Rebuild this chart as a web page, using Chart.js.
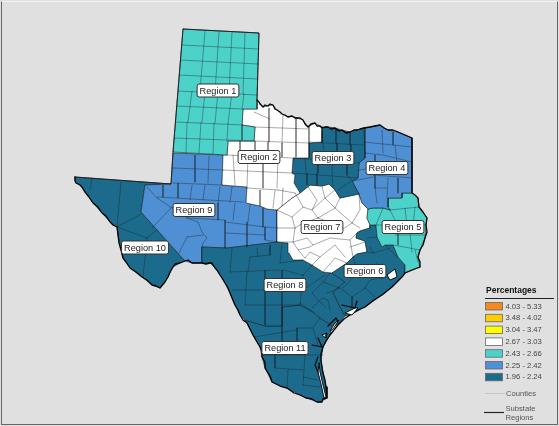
<!DOCTYPE html>
<html>
<head>
<meta charset="utf-8">
<title>Percentages by substate region</title>
<script src="https://cdn.jsdelivr.net/npm/chart.js@4/dist/chart.umd.min.js"></script>
<style>
  html, body { margin: 0; padding: 0; background: #e0e0e0; }
  #wrap { position: relative; width: 559px; height: 426px; overflow: hidden; }
  #frame { position: absolute; left: 1px; top: 1px; right: 1px; bottom: 1px; box-sizing: border-box;
           border: 1px solid #666; border-top-color: #f2f2f2; pointer-events: none; }
</style>
</head>
<body>
<div id="wrap">
  <canvas id="map" width="559" height="426"></canvas>
  <div id="frame"></div>
</div>
<script>
// legend classes
const legendRanges = ['4.03 - 5.33', '3.48 - 4.02', '3.04 - 3.47', '2.67 - 3.03', '2.43 - 2.66', '2.25 - 2.42', '1.96 - 2.24'];
const legendColors = ['#f5891f', '#ffcc00', '#ffff00', '#ffffff', '#4dd2ca', '#4f8fd3', '#1d6b8c'];

// which legend class each region falls in, Region 1 .. Region 11
const regionNames = ['Region 1', 'Region 2', 'Region 3', 'Region 4', 'Region 5', 'Region 6', 'Region 7', 'Region 8', 'Region 9', 'Region 10', 'Region 11'];
const regionClass = [4, 3, 6, 5, 4, 6, 3, 6, 5, 6, 6];
const labelAnchors = [[218, 90.5], [259, 157], [333, 158], [387, 168], [403, 227], [365, 271], [322, 227], [285, 285], [194, 210], [145, 247.5], [285, 348]];

// region shapes (map units)
const region1 = [[183,29],[259,33],[257,100],[257,109],[243,109],[242,125],[255,127],[254,141],[228,141],[227,155],[173,152],[183,29]];
const region2 = [[257,109],[257,100],[260,103],[263,107],[268,106],[273,105],[277,110],[282,114],[288,117],[292,116],[297,118],[303,120],[308,127],[315,123],[320,126],[322,127],[322,142],[309,143],[309,158],[293,158],[292,173],[295,175],[294,183],[300,193],[292,198],[282,206],[277,210],[267,209],[260,206],[246,203],[247,187],[222,185],[223,155],[227,155],[228,141],[254,141],[255,127],[242,125],[243,109],[257,109]];
const region3 = [[322,127],[328,127],[335,128],[342,130],[350,132],[357,130],[360,129],[364,128],[365,158],[359,163],[358,178],[352,181],[359,194],[340,198],[335,190],[329,184],[322,186],[310,185],[300,193],[294,183],[295,175],[292,173],[293,158],[309,158],[309,143],[322,142],[322,127]];
const region4 = [[364,128],[370,127],[380,125],[388,130],[398,132],[412,138],[412,193],[402,193],[402,198],[388,198],[388,207],[390,210],[383,208],[373,208],[368,209],[362,203],[359,194],[352,181],[358,178],[359,163],[365,158],[364,128]];
const region5 = [[368,209],[373,208],[383,208],[390,210],[388,207],[388,198],[402,198],[402,193],[413,193],[418,198],[419,207],[427,218],[426,225],[425,238],[420,250],[418,257],[420,267],[405,273],[405,265],[398,257],[393,245],[385,245],[382,247],[377,237],[376,225],[370,225],[367,218],[368,209]];
const region6 = [[370,228],[370,225],[376,225],[377,237],[382,247],[385,245],[393,245],[398,257],[405,265],[405,273],[402,277],[392,287],[382,295],[365,307],[350,315],[345,316],[340,307],[333,292],[345,282],[332,273],[347,263],[353,257],[357,254],[367,252],[365,241],[356,238],[357,233],[360,231],[370,228]];
const region7 = [[277,210],[282,206],[292,198],[300,193],[310,185],[322,186],[329,184],[335,190],[340,198],[359,194],[362,203],[368,209],[367,218],[370,225],[370,228],[360,231],[357,233],[356,238],[365,241],[367,252],[357,254],[353,257],[347,263],[332,273],[323,272],[312,265],[303,260],[293,260],[289,253],[288,243],[277,242],[277,210]];
const region8 = [[202,247],[227,248],[270,243],[277,242],[288,243],[289,253],[293,260],[303,260],[312,265],[323,272],[332,273],[345,282],[333,292],[340,307],[345,316],[338,325],[332,326],[320,318],[313,312],[300,305],[282,307],[282,326],[265,326],[245,320],[240,315],[235,305],[230,293],[225,283],[220,275],[215,268],[210,263],[202,263],[202,247]];
const region9 = [[173,153],[223,155],[222,185],[247,187],[246,203],[260,206],[267,209],[277,210],[277,242],[270,243],[227,248],[202,247],[202,263],[192,263],[185,261],[141,212],[145,185],[171,184],[173,153]];
const region10 = [[75,177],[171,184],[145,185],[141,212],[185,261],[180,263],[173,267],[168,277],[160,288],[152,285],[142,277],[130,268],[123,258],[118,235],[117,227],[110,222],[102,213],[93,203],[85,192],[80,185],[75,181],[75,177]];
const region11 = [[245,320],[265,326],[282,326],[282,307],[300,305],[313,312],[320,318],[332,326],[330,335],[323,347],[321,360],[323,373],[326,387],[327,398],[320,402],[317,402],[300,395],[287,388],[272,382],[265,368],[262,357],[260,347],[253,335],[247,323],[245,320]];
const regionShapes = [region1, region2, region3, region4, region5, region6, region7, region8, region9, region10, region11];

// survey-straight part of the state line, thin
const stateStraight = [[257,100],[259,33],[183,29],[173,152],[171,184],[75,177]];
// river and coast part of the state line, heavier and jagged
const stateRivers = [[257,100],[259,102],[260,104],[263,107],[265,105],[268,106],[270,104],[273,105],[275,109],[277,110],[280,112],[282,114],[285,115],[288,117],[292,116],[295,118],[297,118],[300,118],[303,120],[305,124],[308,127],[311,124],[315,123],[317,126],[320,126],[322,128],[325,127],[328,127],[331,129],[335,128],[339,131],[342,130],[346,133],[350,132],[354,130],[357,130],[360,129],[364,128],[370,127],[375,126],[380,125],[384,128],[388,130],[393,130],[398,132],[405,135],[412,138],[412,193],[415,195],[418,198],[419,207],[423,212],[427,218],[426,225],[427,232],[425,238],[423,245],[420,250],[418,257],[420,262],[420,267],[412,270],[405,273],[402,277],[397,282],[392,287],[387,291],[382,295],[374,300],[365,307],[358,310],[350,315],[344,319],[338,325],[334,330],[330,335],[326,341],[323,347],[321,354],[321,360],[322,367],[323,373],[325,380],[326,387],[327,392],[327,398],[323,399],[322,402],[317,402],[312,399],[306,398],[300,395],[294,393],[287,388],[280,386],[272,382],[270,376],[265,368],[265,362],[262,357],[262,351],[260,347],[257,342],[253,335],[250,329],[247,323],[243,320],[240,315],[238,310],[235,305],[232,298],[230,293],[228,288],[225,283],[222,278],[220,275],[217,270],[215,268],[212,263],[210,263],[206,264],[202,263],[197,263],[192,263],[188,260],[185,261],[180,263],[175,264],[173,267],[170,272],[168,277],[165,282],[160,288],[156,286],[152,285],[147,280],[142,277],[136,272],[130,268],[126,262],[123,258],[121,250],[119,243],[118,235],[117,227],[113,225],[110,222],[106,216],[102,213],[98,207],[93,203],[89,197],[85,192],[82,187],[80,185],[76,183],[75,181],[75,177]];

// bays and lagoons along the coast
const bayShapes = [
  [[387,275],[395,269],[397,277],[390,280],[387,275]],
  [[345,313],[355,308],[358,308],[352,315],[345,313]],
  [[335,323],[339,320],[333,329],[330,331],[335,323]],
  [[322,335],[327,333],[326,338],[322,335]],
  [[319,363],[320,372],[323,385],[326,397],[324,398],[321,384],[318,372],[319,363]]
];
const coastMarks = [
  [[342,305],[355,308],[357,301]],
  [[318,357],[315,365],[318,372]],
  [[312,345],[322,347],[318,338]],
  [[328,326],[336,318],[338,322]]
];

// county lines
const countiesRegion1 = [
  [[182,45],[259,49]], [[180,60],[258,64]], [[179,75],[258,79]], [[178,91],[257,95]], [[177,106],[243,109]], [[175,122],[243,125]], [[174,138],[254,141]],
  [[205,31],[200,91]], [[219,32],[215,92]], [[232,32],[229,93]], [[245,33],[243,94]],
  [[192,91],[188,122]], [[205,92],[202,122]], [[218,92],[215,123]], [[232,93],[228,123]], [[244,94],[242,109]],
  [[187,122],[186,153]], [[201,122],[199,153]], [[214,123],[213,154]], [[228,123],[227,141]], [[242,125],[242,140]]
];
const countiesRegion2 = [
  [[254,112],[270,119]], [[255,127],[308,129]], [[254,141],[309,143]],
  [[269,108],[269,142]], [[283,115],[282,143]], [[296,118],[296,157]], [[309,127],[309,143]],
  [[227,155],[292,158]], [[223,170],[292,173]],
  [[240,141],[240,155]], [[255,141],[255,155]], [[268,142],[268,156]], [[282,143],[282,157]],
  [[233,155],[235,185]], [[248,156],[247,187]], [[263,157],[263,188]], [[278,157],[277,188]],
  [[247,188],[278,190]], [[278,190],[295,193]], [[260,190],[260,206]], [[275,190],[273,208]], [[283,188],[282,206]]
];
const countiesRegion3 = [
  [[309,142],[363,145]], [[293,158],[359,163]], [[292,173],[358,178]],
  [[322,131],[322,143]], [[336,128],[336,143]], [[350,132],[350,145]],
  [[323,143],[325,158]], [[337,143],[337,160]], [[351,145],[351,162]],
  [[305,158],[306,173]], [[318,160],[318,173]], [[333,160],[332,173]], [[347,162],[347,175]],
  [[307,173],[307,185]], [[317,173],[317,185]], [[332,173],[333,187]], [[347,175],[352,181]], [[338,190],[350,182]]
];
const countiesRegion4 = [
  [[364,142],[412,147]], [[382,130],[383,153]], [[393,132],[393,145]], [[365,153],[382,155]], [[395,145],[397,162]], [[383,155],[412,162]],
  [[373,175],[412,178]], [[388,178],[387,198]], [[375,177],[375,188]], [[353,181],[373,177]], [[375,188],[387,188]], [[375,188],[377,203]], [[398,178],[398,193]],
  [[375,155],[375,177]], [[359,170],[373,168]]
];
const countiesRegion5 = [
  [[390,210],[419,207]], [[405,208],[407,225]], [[415,207],[413,225]], [[390,210],[396,222]], [[376,225],[426,225]],
  [[395,235],[425,235]], [[398,225],[398,245]], [[410,233],[412,252]], [[393,245],[420,250]], [[415,250],[418,262]], [[383,208],[376,225]]
];
const countiesRegion6 = [
  [[367,238],[377,237]], [[370,247],[373,253]], [[385,245],[398,258]], [[373,253],[390,248]], [[343,288],[358,273]], [[352,297],[365,288]], [[352,297],[352,308]],
  [[365,288],[375,297]], [[365,288],[370,280],[387,277]], [[353,257],[358,273]], [[367,252],[373,253]], [[376,263],[383,278]]
];
const countiesRegion7 = [
  [[277,210],[292,217],[303,207],[312,210],[325,198],[335,190]], [[295,193],[303,207]], [[308,187],[317,200],[312,210],[318,218]], [[322,187],[325,198]],
  [[325,198],[335,208],[318,218]], [[335,208],[340,198]], [[335,208],[352,223],[337,233]], [[318,218],[332,223]], [[352,223],[360,210],[359,194]], [[352,223],[360,228]],
  [[292,217],[295,228],[293,242],[298,250],[305,258]], [[295,228],[303,223],[318,218]], [[277,228],[295,228]], [[277,242],[293,242]],
  [[293,242],[307,238],[313,245],[330,238],[350,240],[357,233]], [[298,250],[310,247],[313,245]], [[305,258],[310,252],[320,257],[312,265]],
  [[320,257],[335,245],[345,257]], [[323,272],[335,258],[347,263]], [[350,240],[353,257]], [[365,242],[350,247]]
];
const countiesRegion8 = [
  [[232,248],[230,272]], [[250,257],[270,255]], [[257,248],[258,257]], [[270,245],[270,255]], [[282,243],[280,263]], [[230,272],[280,270]], [[250,257],[248,272]],
  [[247,272],[245,305]], [[265,270],[265,325]], [[282,270],[282,307]], [[232,290],[300,290]], [[245,305],[300,305]], [[283,270],[303,275]], [[280,263],[303,260]],
  [[303,275],[300,305]], [[300,292],[313,283],[325,275]], [[312,293],[323,282],[330,273]], [[323,282],[340,288],[352,297]], [[312,293],[325,307]],
  [[312,308],[322,298],[328,300],[330,310]], [[327,293],[340,288]], [[300,303],[313,312]], [[312,265],[303,275]]
];
const countiesRegion9 = [
  [[173,168],[223,170]], [[195,155],[195,182]], [[209,156],[208,183]], [[173,183],[222,185]],
  [[147,187],[157,198],[172,208]], [[152,228],[172,207]], [[163,185],[163,197]], [[178,183],[178,198]], [[192,185],[190,200]], [[205,185],[203,200]], [[220,187],[218,203]], [[232,187],[230,202]],
  [[157,197],[243,202]], [[218,203],[218,220]], [[235,203],[233,220]], [[250,205],[248,222]], [[263,208],[263,227]], [[187,218],[225,220]], [[225,220],[225,248]],
  [[225,233],[265,235]], [[247,222],[247,247]], [[225,222],[265,227]], [[172,207],[187,218],[198,222],[202,232],[207,238],[203,243],[202,247]],
  [[187,237],[203,235]], [[179,253],[187,237]], [[265,227],[265,240]], [[265,240],[277,242]], [[265,227],[277,228]]
];
const countiesRegion10 = [
  [[92,178],[90,190]], [[121,182],[117,227]], [[117,227],[141,214]], [[117,227],[147,238]], [[147,238],[157,230]], [[147,238],[143,277]]
];
const countiesRegion11 = [
  [[263,355],[323,355]], [[282,326],[282,347]], [[297,328],[297,355]], [[275,355],[275,368]], [[305,355],[303,385]], [[288,370],[287,388]], [[275,368],[303,370]],
  [[303,377],[318,380]], [[303,385],[320,387]], [[254,337],[297,330]], [[297,328],[313,328],[320,318]], [[313,328],[318,345]]
];
const countyLines = [].concat(countiesRegion1, countiesRegion2, countiesRegion3, countiesRegion4, countiesRegion5, countiesRegion6,
  countiesRegion7, countiesRegion8, countiesRegion9, countiesRegion10, countiesRegion11);

const inkColor = '#000000';

function lineSet(points, color, width, order) {
  return { data: points, showLine: true, fill: false, pointRadius: 0, borderColor: color, borderWidth: width,
           borderJoinStyle: 'round', borderCapStyle: 'round', tension: 0, order: order };
}
function shapeSet(points, fillColor, edgeColor, width, order) {
  return Object.assign(lineSet(points, edgeColor, width, order), { fill: 'shape', backgroundColor: fillColor });
}

const datasets = [];
regionShapes.forEach((shape, i) => datasets.push(shapeSet(shape, legendColors[regionClass[i]], 'rgba(20,30,35,.7)', 0.8, 5)));
countyLines.forEach(line => datasets.push(lineSet(line, 'rgba(25,30,35,.5)', 0.75, 4)));
datasets.push(lineSet(stateStraight, '#1a1a1a', 0.9, 3));
datasets.push(lineSet(stateRivers, inkColor, 1.3, 3));
bayShapes.forEach(shape => datasets.push(shapeSet(shape, '#ffffff', inkColor, 0.9, 2)));
coastMarks.forEach(mark => datasets.push(lineSet(mark, inkColor, 1.2, 1)));

function roundBox(ctx, x, y, w, h, r) {
  ctx.beginPath();
  ctx.roundRect(x, y, w, h, r);
}

// region name tags on the map
const regionTags = {
  id: 'regionTags',
  afterDatasetsDraw(chart) {
    const { ctx, scales } = chart;
    ctx.save();
    ctx.font = '9.2px "Liberation Sans", Arial, sans-serif';
    ctx.textAlign = 'center';
    ctx.textBaseline = 'middle';
    regionNames.forEach((name, i) => {
      const px = scales.x.getPixelForValue(labelAnchors[i][0]);
      const py = scales.y.getPixelForValue(labelAnchors[i][1]);
      const w = ctx.measureText(name).width + 5;
      roundBox(ctx, px - w / 2, py - 6.5, w, 13, 2);
      ctx.fillStyle = '#ffffff';
      ctx.fill();
      ctx.strokeStyle = '#333333';
      ctx.lineWidth = 1;
      ctx.stroke();
      ctx.fillStyle = '#222222';
      ctx.fillText(name, px, py + 0.5);
    });
    ctx.restore();
  }
};

// legend block, lower right
const legendBlock = {
  id: 'legendBlock',
  afterDraw(chart) {
    const { ctx } = chart;
    ctx.save();
    ctx.textBaseline = 'middle';
    ctx.textAlign = 'left';
    ctx.fillStyle = '#111111';
    ctx.font = 'bold 8.5px "Liberation Sans", Arial, sans-serif';
    ctx.fillText('Percentages', 486, 291);
    ctx.strokeStyle = '#222222';
    ctx.lineWidth = 1;
    ctx.beginPath();
    ctx.moveTo(485, 298.5);
    ctx.lineTo(554, 298.5);
    ctx.stroke();
    ctx.font = '7.6px "Liberation Sans", Arial, sans-serif';
    legendRanges.forEach((label, i) => {
      const y = 302.5 + i * 11.8;
      ctx.fillStyle = legendColors[i];
      ctx.fillRect(485.5, y, 17, 7.5);
      ctx.strokeStyle = '#666666';
      ctx.lineWidth = 0.8;
      ctx.strokeRect(485.5, y, 17, 7.5);
      ctx.fillStyle = '#444444';
      ctx.fillText(label, 505.5, y + 4);
    });
    ctx.strokeStyle = '#bcbcbc';
    ctx.beginPath();
    ctx.moveTo(485, 393.5);
    ctx.lineTo(505, 393.5);
    ctx.stroke();
    ctx.fillStyle = '#555555';
    ctx.fillText('Counties', 506, 394);
    ctx.strokeStyle = '#222222';
    ctx.lineWidth = 1.2;
    ctx.beginPath();
    ctx.moveTo(484, 412.5);
    ctx.lineTo(504, 412.5);
    ctx.stroke();
    ctx.fillText('Substate', 505.5, 408.5);
    ctx.fillText('Regions', 505.5, 418);
    ctx.restore();
  }
};

new Chart(document.getElementById('map').getContext('2d'), {
  type: 'scatter',
  data: { datasets: datasets },
  plugins: [regionTags, legendBlock],
  options: {
    responsive: false,
    animation: false,
    devicePixelRatio: 1,
    layout: { padding: 0 },
    scales: {
      x: { type: 'linear', min: 0, max: 559, display: false },
      y: { type: 'linear', min: 0, max: 426, reverse: true, display: false }
    },
    plugins: { legend: { display: false }, tooltip: { enabled: false } }
  }
});
</script>
</body>
</html>
